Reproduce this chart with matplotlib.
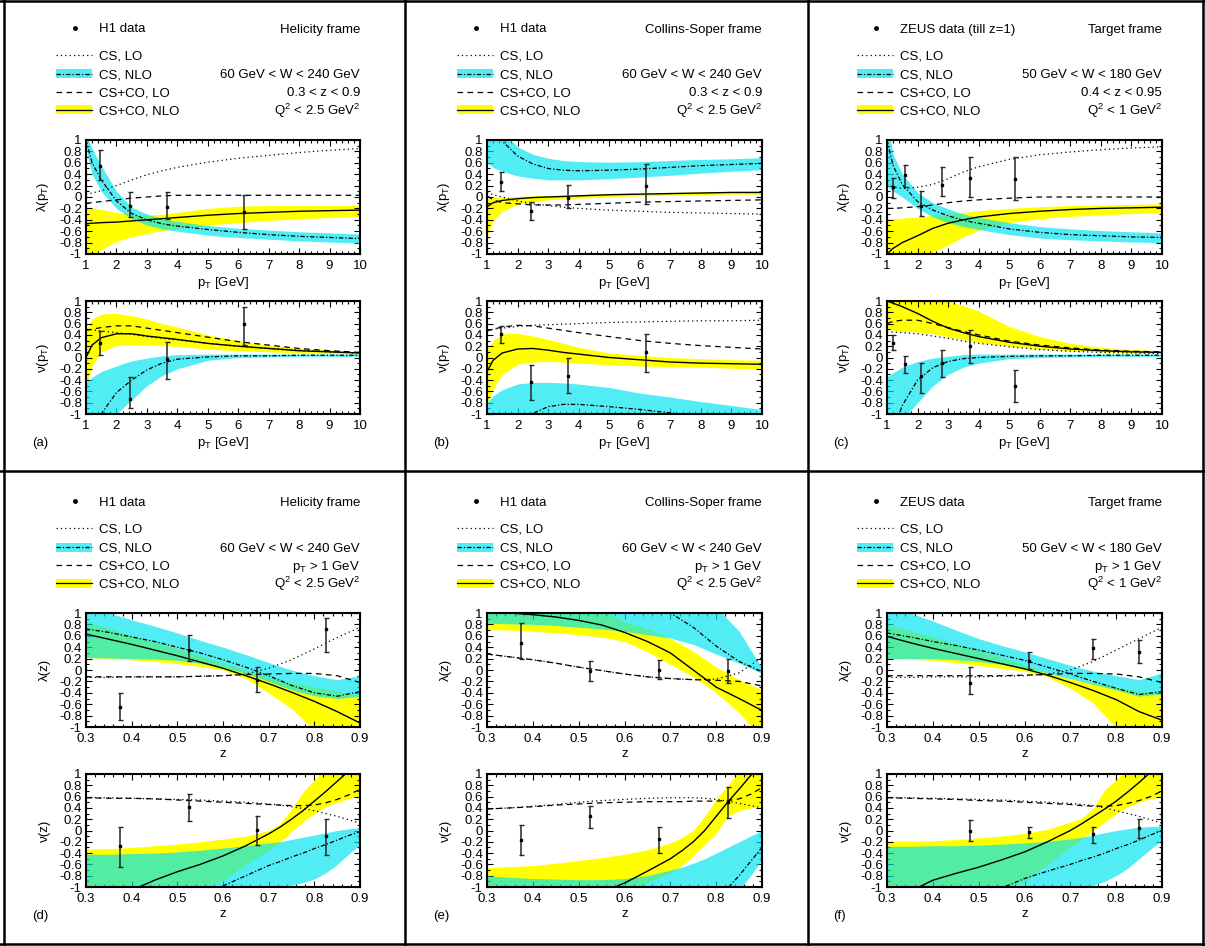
import numpy as np
import matplotlib
matplotlib.use('Agg')
import matplotlib.pyplot as plt
from matplotlib.patches import Rectangle
from matplotlib.ticker import MultipleLocator, FuncFormatter

plt.rcParams['font.family'] = ['Liberation Sans', 'DejaVu Sans']
plt.rcParams['mathtext.fontset'] = 'custom'
plt.rcParams['mathtext.rm'] = 'Liberation Sans'
plt.rcParams['mathtext.default'] = 'regular'
plt.rcParams['axes.unicode_minus'] = False
plt.rcParams['font.size'] = 9.5

W, H = 1205, 946

# x grids
PT = [1, 1.2, 1.5, 2, 2.5, 3, 3.5, 4, 5, 6, 7, 8, 9, 10]
Z = [0.3, 0.35, 0.4, 0.45, 0.5, 0.55, 0.6, 0.65, 0.7, 0.75, 0.8, 0.85, 0.9]
ZN = [0.3, 0.35, 0.4, 0.45, 0.5, 0.55, 0.6, 0.65, 0.7, 0.725, 0.75, 0.775, 0.8, 0.825, 0.85, 0.875, 0.9]

# (a) helicity frame, lambda(pT)
a_lam_cs_lo = [0.05, 0.07, 0.11, 0.2, 0.3, 0.39, 0.46, 0.52, 0.61, 0.68, 0.73, 0.78, 0.82, 0.85]
a_lam_cs_nlo = [1.0, 0.6, 0.3, -0.07, -0.29, -0.4, -0.47, -0.51, -0.57, -0.62, -0.66, -0.69, -0.71, -0.73]
a_lam_cs_nlo_lo = [0.85, 0.4, 0.1, -0.2, -0.38, -0.49, -0.56, -0.6, -0.67, -0.71, -0.74, -0.77, -0.79, -0.81]
a_lam_cs_nlo_hi = [1.1, 0.85, 0.55, 0.1, -0.18, -0.3, -0.38, -0.43, -0.5, -0.55, -0.58, -0.61, -0.63, -0.65]
a_lam_co_lo = [-0.11, -0.1, -0.08, -0.05, -0.02, 0.0, 0.02, 0.03, 0.03, 0.03, 0.03, 0.03, 0.03, 0.03]
a_lam_co_nlo = [-0.47, -0.46, -0.45, -0.44, -0.42, -0.4, -0.38, -0.36, -0.32, -0.29, -0.27, -0.25, -0.24, -0.23]
a_lam_co_nlo_lo = [-1.3, -1.05, -0.92, -0.78, -0.7, -0.64, -0.59, -0.55, -0.49, -0.45, -0.41, -0.38, -0.36, -0.34]
a_lam_co_nlo_hi = [-0.17, -0.19, -0.22, -0.27, -0.3, -0.32, -0.3, -0.27, -0.2, -0.16, -0.15, -0.15, -0.15, -0.15]
a_lam_px = [1.45, 2.45, 3.65, 6.2]
a_lam_py = [0.55, -0.15, -0.17, -0.27]
a_lam_plo = [0.29, -0.35, -0.38, -0.56]
a_lam_phi = [0.82, 0.09, 0.08, 0.04]

# (a) nu(pT)
a_nu_cs_lo = [0.5, 0.49, 0.47, 0.44, 0.41, 0.37, 0.34, 0.31, 0.25, 0.2, 0.16, 0.13, 0.1, 0.08]
a_nu_cs_nlo = [-2.0, -1.6, -1.0, -0.62, -0.4, -0.22, -0.1, -0.03, 0.01, 0.03, 0.03, 0.04, 0.04, 0.04]
a_nu_cs_nlo_lo = [-2.0, -2.0, -1.5, -1.0, -0.75, -0.5, -0.32, -0.2, -0.05, 0.0, 0.01, 0.02, 0.02, 0.02]
a_nu_cs_nlo_hi = [-0.45, -0.35, -0.25, -0.15, -0.06, -0.01, 0.03, 0.05, 0.06, 0.06, 0.06, 0.06, 0.06, 0.06]
a_nu_co_lo = [0.48, 0.5, 0.53, 0.56, 0.56, 0.52, 0.48, 0.44, 0.36, 0.28, 0.22, 0.16, 0.12, 0.09]
a_nu_co_nlo = [0.0, 0.22, 0.35, 0.42, 0.42, 0.38, 0.35, 0.32, 0.25, 0.2, 0.16, 0.12, 0.1, 0.08]
a_nu_co_nlo_lo = [-0.55, -0.15, 0.1, 0.21, 0.22, 0.22, 0.21, 0.2, 0.15, 0.12, 0.1, 0.08, 0.07, 0.06]
a_nu_co_nlo_hi = [0.5, 0.68, 0.77, 0.78, 0.74, 0.68, 0.6, 0.54, 0.4, 0.3, 0.22, 0.17, 0.13, 0.1]
a_nu_px = [1.45, 2.45, 3.65, 6.2]
a_nu_py = [0.25, -0.74, -0.03, 0.59]
a_nu_plo = [0.04, -0.9, -0.38, 0.22]
a_nu_phi = [0.47, -0.34, 0.28, 0.9]

# (b) Collins-Soper frame, lambda(pT)
b_lam_cs_lo = [0.08, 0.04, 0.0, -0.07, -0.12, -0.15, -0.18, -0.2, -0.23, -0.25, -0.27, -0.28, -0.29, -0.3]
b_lam_cs_nlo = [1.3, 1.15, 0.98, 0.72, 0.58, 0.5, 0.47, 0.46, 0.47, 0.49, 0.52, 0.55, 0.57, 0.59]
b_lam_cs_nlo_lo = [0.6, 0.52, 0.45, 0.37, 0.33, 0.3, 0.3, 0.3, 0.32, 0.35, 0.38, 0.42, 0.45, 0.48]
b_lam_cs_nlo_hi = [1.3, 1.25, 1.15, 0.88, 0.75, 0.68, 0.64, 0.62, 0.61, 0.62, 0.64, 0.66, 0.67, 0.69]
b_lam_co_lo = [0.02, -0.05, -0.1, -0.12, -0.14, -0.14, -0.14, -0.13, -0.11, -0.09, -0.08, -0.07, -0.06, -0.05]
b_lam_co_nlo = [-0.17, -0.1, -0.06, -0.03, -0.01, 0.0, 0.01, 0.02, 0.04, 0.05, 0.06, 0.07, 0.08, 0.08]
b_lam_co_nlo_lo = [-0.7, -0.42, -0.25, -0.13, -0.08, -0.05, -0.03, -0.02, 0.0, 0.02, 0.03, 0.04, 0.05, 0.05]
b_lam_co_nlo_hi = [-0.03, -0.01, 0.0, 0.01, 0.02, 0.03, 0.03, 0.04, 0.06, 0.07, 0.08, 0.09, 0.1, 0.11]
b_lam_px = [1.45, 2.45, 3.65, 6.2]
b_lam_py = [0.26, -0.25, -0.01, 0.19]
b_lam_plo = [0.1, -0.4, -0.2, -0.12]
b_lam_phi = [0.44, -0.08, 0.21, 0.58]

# (b) nu(pT)
b_nu_cs_lo = [0.47, 0.5, 0.52, 0.55, 0.57, 0.58, 0.59, 0.6, 0.62, 0.63, 0.64, 0.65, 0.65, 0.66]
b_nu_cs_nlo = [-2.0, -2.0, -1.7, -1.3, -0.99, -0.87, -0.83, -0.83, -0.87, -0.92, -0.98, -1.04, -1.1, -1.15]
b_nu_cs_nlo_lo = [-2.0, -2.0, -2.0, -2.0, -2.0, -2.0, -2.0, -2.0, -2.0, -2.0, -2.0, -2.0, -2.0, -2.0]
b_nu_cs_nlo_hi = [-0.8, -0.68, -0.57, -0.47, -0.44, -0.44, -0.45, -0.47, -0.53, -0.63, -0.7, -0.78, -0.85, -0.92]
b_nu_co_lo = [0.47, 0.5, 0.54, 0.57, 0.56, 0.52, 0.48, 0.44, 0.37, 0.3, 0.25, 0.21, 0.18, 0.15]
b_nu_co_nlo = [-0.25, -0.05, 0.08, 0.15, 0.16, 0.13, 0.09, 0.06, 0.0, -0.04, -0.08, -0.1, -0.11, -0.12]
b_nu_co_nlo_lo = [-0.85, -0.55, -0.3, -0.12, -0.08, -0.07, -0.08, -0.1, -0.13, -0.15, -0.16, -0.17, -0.19, -0.2]
b_nu_co_nlo_hi = [0.15, 0.3, 0.42, 0.43, 0.38, 0.32, 0.25, 0.18, 0.08, 0.04, 0.0, -0.02, -0.04, -0.05]
b_nu_px = [1.45, 2.45, 3.65, 6.2]
b_nu_py = [0.41, -0.43, -0.32, 0.09]
b_nu_plo = [0.25, -0.75, -0.63, -0.26]
b_nu_phi = [0.55, -0.14, -0.01, 0.42]

# (c) target frame, lambda(pT)
c_lam_cs_lo = [0.22, 0.18, 0.15, 0.17, 0.22, 0.32, 0.44, 0.53, 0.66, 0.74, 0.79, 0.83, 0.86, 0.88]
c_lam_cs_nlo = [1.0, 0.55, 0.22, -0.08, -0.23, -0.33, -0.41, -0.46, -0.56, -0.62, -0.66, -0.68, -0.7, -0.71]
c_lam_cs_nlo_lo = [0.2, 0.1, 0.0, -0.2, -0.35, -0.45, -0.52, -0.57, -0.66, -0.72, -0.75, -0.77, -0.79, -0.8]
c_lam_cs_nlo_hi = [1.3, 0.75, 0.4, 0.08, -0.1, -0.21, -0.3, -0.36, -0.45, -0.52, -0.56, -0.59, -0.61, -0.63]
c_lam_co_lo = [-0.2, -0.2, -0.19, -0.17, -0.14, -0.1, -0.07, -0.05, -0.02, 0.0, 0.0, 0.0, 0.0, 0.0]
c_lam_co_nlo = [-1.0, -0.9, -0.8, -0.68, -0.55, -0.46, -0.4, -0.35, -0.29, -0.25, -0.22, -0.2, -0.19, -0.18]
c_lam_co_nlo_lo = [-1.5, -1.4, -1.3, -1.12, -0.97, -0.84, -0.7, -0.58, -0.45, -0.38, -0.34, -0.31, -0.29, -0.27]
c_lam_co_nlo_hi = [-0.38, -0.38, -0.37, -0.35, -0.32, -0.3, -0.27, -0.24, -0.2, -0.17, -0.15, -0.14, -0.13, -0.12]
c_lam_px = [1.2, 1.6, 2.1, 2.8, 3.7, 5.2]
c_lam_py = [0.17, 0.39, -0.15, 0.21, 0.34, 0.31]
c_lam_plo = [-0.01, 0.18, -0.34, 0.02, 0.0, -0.05]
c_lam_phi = [0.33, 0.57, 0.11, 0.52, 0.7, 0.7]

# (c) nu(pT)
c_nu_cs_lo = [0.45, 0.45, 0.44, 0.42, 0.38, 0.34, 0.29, 0.25, 0.19, 0.14, 0.11, 0.09, 0.08, 0.07]
c_nu_cs_nlo = [-1.6, -1.3, -0.85, -0.4, -0.18, -0.07, -0.02, 0.0, 0.02, 0.03, 0.03, 0.04, 0.04, 0.04]
c_nu_cs_nlo_lo = [-2.0, -1.6, -1.1, -0.8, -0.5, -0.3, -0.17, -0.1, -0.02, 0.0, 0.01, 0.02, 0.02, 0.02]
c_nu_cs_nlo_hi = [-0.34, -0.27, -0.17, -0.07, -0.01, 0.02, 0.05, 0.06, 0.06, 0.06, 0.06, 0.06, 0.06, 0.06]
c_nu_co_lo = [0.6, 0.64, 0.66, 0.66, 0.6, 0.53, 0.46, 0.4, 0.29, 0.22, 0.17, 0.13, 0.11, 0.1]
c_nu_co_nlo = [1.0, 0.96, 0.9, 0.78, 0.64, 0.52, 0.44, 0.37, 0.27, 0.2, 0.15, 0.12, 0.1, 0.09]
c_nu_co_nlo_lo = [0.5, 0.48, 0.47, 0.45, 0.42, 0.37, 0.32, 0.27, 0.2, 0.15, 0.12, 0.1, 0.08, 0.07]
c_nu_co_nlo_hi = [1.2, 1.2, 1.2, 1.2, 1.1, 1.0, 0.92, 0.82, 0.55, 0.37, 0.25, 0.18, 0.14, 0.12]
c_nu_px = [1.2, 1.6, 2.1, 2.8, 3.7, 5.2]
c_nu_py = [0.26, -0.12, -0.33, -0.09, 0.2, -0.5]
c_nu_plo = [0.13, -0.27, -0.63, -0.34, -0.09, -0.79]
c_nu_phi = [0.4, 0.03, -0.09, 0.14, 0.48, -0.22]

# (d) helicity frame, lambda(z)
d_lam_cs_lo = [-0.13, -0.13, -0.12, -0.12, -0.12, -0.11, -0.1, -0.07, 0.03, 0.18, 0.37, 0.57, 0.75]
d_lam_cs_nlo = [0.72, 0.66, 0.58, 0.5, 0.4, 0.3, 0.18, 0.05, -0.1, -0.27, -0.4, -0.46, -0.38]
d_lam_cs_nlo_lo = [0.22, 0.21, 0.2, 0.19, 0.17, 0.12, 0.05, -0.06, -0.2, -0.35, -0.45, -0.5, -0.46]
d_lam_cs_nlo_hi = [1.1, 1.0, 0.88, 0.77, 0.65, 0.52, 0.4, 0.27, 0.13, 0.0, -0.1, -0.17, -0.1]
d_lam_co_lo = [-0.12, -0.12, -0.12, -0.12, -0.12, -0.11, -0.1, -0.08, -0.07, -0.06, -0.06, -0.1, -0.22]
d_lam_co_nlo = [0.63, 0.54, 0.45, 0.35, 0.25, 0.14, 0.03, -0.1, -0.24, -0.39, -0.55, -0.73, -0.93]
d_lam_co_nlo_lo = [0.22, 0.2, 0.18, 0.15, 0.11, 0.06, 0.0, -0.15, -0.4, -0.68, -1.05, -1.3, -1.5]
d_lam_co_nlo_hi = [0.85, 0.73, 0.6, 0.49, 0.38, 0.25, 0.12, 0.0, -0.12, -0.22, -0.3, -0.37, -0.45]
d_lam_px = [0.375, 0.525, 0.675, 0.825]
d_lam_py = [-0.65, 0.35, -0.18, 0.72]
d_lam_plo = [-0.87, 0.15, -0.39, 0.31]
d_lam_phi = [-0.41, 0.61, 0.05, 0.92]

# (d) nu(z)
d_nu_cs_lo = [0.58, 0.58, 0.57, 0.56, 0.55, 0.54, 0.52, 0.5, 0.47, 0.45, 0.42, 0.39, 0.35, 0.3, 0.25, 0.19, 0.13]
d_nu_cs_nlo = [-2.0, -2.0, -2.0, -1.8, -1.6, -1.3, -0.98, -0.8, -0.62, -0.55, -0.47, -0.4, -0.32, -0.25, -0.17, -0.09, -0.02]
d_nu_cs_nlo_lo = [-2.0, -2.0, -2.0, -2.0, -2.0, -2.0, -2.0, -1.6, -1.3, -1.1, -0.97, -0.92, -0.86, -0.75, -0.6, -0.42, -0.25]
d_nu_cs_nlo_hi = [-0.42, -0.42, -0.41, -0.4, -0.38, -0.35, -0.31, -0.27, -0.22, -0.2, -0.16, -0.12, -0.08, -0.04, 0.0, 0.03, 0.05]
d_nu_co_lo = [0.58, 0.57, 0.57, 0.56, 0.54, 0.52, 0.5, 0.48, 0.46, 0.45, 0.44, 0.44, 0.45, 0.49, 0.55, 0.63, 0.73]
d_nu_co_nlo = [-1.5, -1.3, -1.06, -0.88, -0.73, -0.6, -0.45, -0.27, -0.06, 0.06, 0.2, 0.35, 0.52, 0.69, 0.87, 1.05, 1.2]
d_nu_co_nlo_lo = [-1.5, -1.4, -1.3, -1.2, -1.1, -1.02, -0.88, -0.6, -0.35, -0.2, -0.02, 0.15, 0.3, 0.42, 0.5, 0.56, 0.62]
d_nu_co_nlo_hi = [-0.33, -0.32, -0.3, -0.27, -0.24, -0.2, -0.15, -0.1, 0.0, 0.12, 0.38, 0.68, 0.9, 1.1, 1.2, 1.2, 1.2]
d_nu_px = [0.375, 0.525, 0.675, 0.825]
d_nu_py = [-0.28, 0.41, 0.01, -0.1]
d_nu_plo = [-0.64, 0.16, -0.25, -0.43]
d_nu_phi = [0.06, 0.64, 0.25, 0.21]

# (e) Collins-Soper frame, lambda(z)
e_lam_cs_lo = [0.28, 0.23, 0.18, 0.12, 0.05, -0.01, -0.07, -0.12, -0.15, -0.17, -0.16, -0.05, 0.22]
e_lam_cs_nlo = [1.5, 1.45, 1.4, 1.35, 1.3, 1.2, 1.12, 1.05, 1.0, 0.75, 0.42, 0.15, -0.03]
e_lam_cs_nlo_lo = [0.82, 0.81, 0.8, 0.78, 0.75, 0.72, 0.68, 0.62, 0.56, 0.45, 0.28, 0.12, -0.06]
e_lam_cs_nlo_hi = [1.5, 1.5, 1.5, 1.5, 1.5, 1.5, 1.5, 1.4, 1.3, 1.2, 1.1, 0.68, 0.03]
e_lam_co_lo = [0.28, 0.23, 0.18, 0.12, 0.05, -0.01, -0.07, -0.12, -0.15, -0.17, -0.18, -0.2, -0.28]
e_lam_co_nlo = [1.02, 1.0, 0.97, 0.93, 0.87, 0.79, 0.66, 0.5, 0.3, 0.0, -0.3, -0.5, -0.71]
e_lam_co_nlo_lo = [0.71, 0.7, 0.68, 0.65, 0.62, 0.58, 0.5, 0.32, 0.1, -0.12, -0.4, -0.75, -1.2]
e_lam_co_nlo_hi = [1.1, 1.1, 1.1, 1.1, 1.1, 1.05, 0.85, 0.72, 0.55, 0.33, 0.05, -0.17, -0.35]
e_lam_px = [0.375, 0.525, 0.675, 0.825]
e_lam_py = [0.47, -0.01, 0.0, -0.01]
e_lam_plo = [0.19, -0.19, -0.16, -0.22]
e_lam_phi = [0.82, 0.15, 0.18, 0.19]

# (e) nu(z)
e_nu_cs_lo = [0.38, 0.4, 0.43, 0.46, 0.5, 0.53, 0.55, 0.57, 0.58, 0.58, 0.58, 0.57, 0.55, 0.52, 0.48, 0.44, 0.4]
e_nu_cs_nlo = [-2.0, -2.0, -2.0, -2.0, -2.0, -2.0, -2.0, -2.0, -2.0, -2.0, -2.0, -2.0, -1.4, -1.02, -0.8, -0.55, -0.3]
e_nu_cs_nlo_lo = [-2.0, -2.0, -2.0, -2.0, -2.0, -2.0, -2.0, -2.0, -2.0, -2.0, -2.0, -2.0, -2.0, -1.3, -1.05, -0.8, -0.52]
e_nu_cs_nlo_hi = [-0.8, -0.83, -0.85, -0.86, -0.87, -0.87, -0.85, -0.8, -0.7, -0.65, -0.58, -0.5, -0.4, -0.3, -0.2, -0.1, 0.0]
e_nu_co_lo = [0.38, 0.4, 0.42, 0.45, 0.47, 0.49, 0.5, 0.51, 0.51, 0.51, 0.52, 0.52, 0.52, 0.53, 0.56, 0.64, 0.76]
e_nu_co_nlo = [-1.6, -1.5, -1.4, -1.3, -1.2, -1.1, -0.93, -0.72, -0.5, -0.36, -0.2, 0.0, 0.25, 0.5, 0.73, 0.97, 1.2]
e_nu_co_nlo_lo = [-1.5, -1.5, -1.5, -1.4, -1.3, -1.2, -1.1, -0.92, -0.75, -0.62, -0.45, -0.25, -0.05, 0.25, 0.35, 0.4, 0.43]
e_nu_co_nlo_hi = [-0.66, -0.64, -0.62, -0.58, -0.53, -0.48, -0.42, -0.34, -0.22, -0.12, 0.0, 0.25, 0.55, 0.8, 1.05, 1.2, 1.2]
e_nu_px = [0.375, 0.525, 0.675, 0.825]
e_nu_py = [-0.17, 0.25, -0.15, 0.51]
e_nu_plo = [-0.44, 0.04, -0.4, 0.22]
e_nu_phi = [0.09, 0.44, 0.07, 0.77]

# (f) target frame, lambda(z)
f_lam_cs_lo = [-0.13, -0.13, -0.12, -0.12, -0.12, -0.11, -0.1, -0.07, 0.0, 0.15, 0.35, 0.55, 0.75]
f_lam_cs_nlo = [0.65, 0.58, 0.5, 0.43, 0.35, 0.26, 0.17, 0.05, -0.07, -0.2, -0.32, -0.43, -0.38]
f_lam_cs_nlo_lo = [0.2, 0.2, 0.2, 0.18, 0.15, 0.1, 0.03, -0.05, -0.15, -0.25, -0.35, -0.46, -0.42]
f_lam_cs_nlo_hi = [1.1, 1.0, 0.86, 0.7, 0.55, 0.43, 0.32, 0.2, 0.08, -0.02, -0.1, -0.17, -0.05]
f_lam_co_lo = [-0.1, -0.1, -0.1, -0.1, -0.1, -0.1, -0.09, -0.08, -0.06, -0.06, -0.07, -0.12, -0.22]
f_lam_co_nlo = [0.59, 0.48, 0.38, 0.29, 0.2, 0.11, 0.02, -0.09, -0.22, -0.36, -0.52, -0.73, -0.88]
f_lam_co_nlo_lo = [0.2, 0.19, 0.17, 0.13, 0.08, 0.03, -0.02, -0.12, -0.32, -0.58, -1.02, -1.3, -1.5]
f_lam_co_nlo_hi = [0.8, 0.69, 0.58, 0.46, 0.35, 0.22, 0.08, -0.04, -0.15, -0.23, -0.3, -0.37, -0.4]
f_lam_px = [0.48, 0.61, 0.75, 0.85]
f_lam_py = [-0.23, 0.16, 0.39, 0.31]
f_lam_plo = [-0.42, 0.02, 0.19, 0.12]
f_lam_phi = [0.05, 0.31, 0.55, 0.53]

# (f) nu(z)
f_nu_cs_lo = [0.58, 0.58, 0.57, 0.56, 0.55, 0.54, 0.52, 0.5, 0.48, 0.46, 0.44, 0.4, 0.35, 0.3, 0.25, 0.19, 0.13]
f_nu_cs_nlo = [-2.0, -2.0, -1.8, -1.5, -1.25, -1.02, -0.85, -0.72, -0.6, -0.53, -0.47, -0.4, -0.32, -0.25, -0.17, -0.08, 0.0]
f_nu_cs_nlo_lo = [-2.0, -2.0, -2.0, -2.0, -2.0, -2.0, -2.0, -2.0, -1.3, -1.1, -0.97, -0.9, -0.8, -0.67, -0.5, -0.33, -0.17]
f_nu_cs_nlo_hi = [-0.28, -0.28, -0.27, -0.27, -0.26, -0.24, -0.22, -0.19, -0.15, -0.12, -0.08, -0.04, 0.0, 0.03, 0.06, 0.07, 0.08]
f_nu_co_lo = [0.58, 0.57, 0.56, 0.55, 0.53, 0.52, 0.5, 0.48, 0.46, 0.44, 0.43, 0.43, 0.44, 0.48, 0.53, 0.6, 0.7]
f_nu_co_nlo = [-1.3, -1.08, -0.88, -0.76, -0.65, -0.52, -0.38, -0.2, 0.0, 0.12, 0.25, 0.38, 0.52, 0.68, 0.85, 1.03, 1.2]
f_nu_co_nlo_lo = [-1.5, -1.4, -1.3, -1.2, -1.1, -1.02, -0.9, -0.6, -0.3, -0.15, 0.0, 0.15, 0.3, 0.42, 0.5, 0.56, 0.6]
f_nu_co_nlo_hi = [-0.19, -0.19, -0.18, -0.16, -0.13, -0.1, -0.05, 0.02, 0.15, 0.22, 0.4, 0.72, 0.9, 1.1, 1.2, 1.2, 1.2]
f_nu_px = [0.48, 0.61, 0.75, 0.85]
f_nu_py = [0.0, -0.03, -0.07, 0.04]
f_nu_plo = [-0.18, -0.14, -0.22, -0.14]
f_nu_phi = [0.18, 0.07, 0.06, 0.21]

# legend / header texts
who = ['H1 data', 'H1 data', 'ZEUS data (till z=1)', 'H1 data', 'H1 data', 'ZEUS data']
frames = ['Helicity frame', 'Collins-Soper frame', 'Target frame'] * 2
cuts = [
    ['60 GeV < W < 240 GeV', '0.3 < z < 0.9', 'Q$^2$ < 2.5 GeV$^2$'],
    ['60 GeV < W < 240 GeV', '0.3 < z < 0.9', 'Q$^2$ < 2.5 GeV$^2$'],
    ['50 GeV < W < 180 GeV', '0.4 < z < 0.95', 'Q$^2$ < 1 GeV$^2$'],
    ['60 GeV < W < 240 GeV', 'p$_T$ > 1 GeV', 'Q$^2$ < 2.5 GeV$^2$'],
    ['60 GeV < W < 240 GeV', 'p$_T$ > 1 GeV', 'Q$^2$ < 2.5 GeV$^2$'],
    ['50 GeV < W < 180 GeV', 'p$_T$ > 1 GeV', 'Q$^2$ < 1 GeV$^2$'],
]
series_names = ['CS, LO', 'CS, NLO', 'CS+CO, LO', 'CS+CO, NLO']
tags = ['(a)', '(b)', '(c)', '(d)', '(e)', '(f)']

YELLOW = '#ffff00'
CYAN = '#00e4f0'
CYAN_ALPHA = 0.68
DOT = (0, (1, 2.5))
DASHDOT = (0, (3.5, 1.6, 1, 1.6))
DASH = (0, (4.5, 3.5))


def fmt(v, pos):
    v = round(v, 3)
    if abs(v) < 1e-9:
        return '0'
    return f'{v:g}'


def add_ax(fig, left, top, right, bottom):
    return fig.add_axes([left / W, 1 - bottom / H, (right - left) / W, (bottom - top) / H])


def panel(ax, x, curves, pts, zaxis, xlabel, ylabel):
    cs_lo, cs_nlo, cs_nlo_lo, cs_nlo_hi, co_lo, co_nlo, co_nlo_lo, co_nlo_hi = curves
    ax.fill_between(x, co_nlo_lo, co_nlo_hi, color=YELLOW, lw=0, zorder=1)
    ax.fill_between(x, cs_nlo_lo, cs_nlo_hi, color=CYAN, alpha=CYAN_ALPHA, lw=0, zorder=2)
    ax.plot(x, cs_lo, color='k', ls=DOT, lw=0.9, zorder=3)
    ax.plot(x, cs_nlo, color='k', ls=DASHDOT, lw=0.9, zorder=3)
    ax.plot(x, co_lo, color='k', ls=DASH, lw=0.9, zorder=3)
    ax.plot(x, co_nlo, color='k', lw=1.0, zorder=3)
    px, py, plo, phi = pts
    yerr = [np.subtract(py, plo), np.subtract(phi, py)]
    ax.errorbar(px, py, yerr=yerr, fmt='s', ms=2.0, color='k', ecolor='#262626',
                elinewidth=1.1, capsize=1.8, capthick=1.0, zorder=4)
    ax.set_ylim(-1, 1)
    if zaxis:
        ax.set_xlim(0.3, 0.9)
        ax.xaxis.set_major_locator(MultipleLocator(0.1))
        ax.xaxis.set_minor_locator(MultipleLocator(0.02))
    else:
        ax.set_xlim(1, 10)
        ax.xaxis.set_major_locator(MultipleLocator(1))
        ax.xaxis.set_minor_locator(MultipleLocator(0.2))
    ax.yaxis.set_major_locator(MultipleLocator(0.2))
    ax.yaxis.set_minor_locator(MultipleLocator(0.1))
    ax.xaxis.set_major_formatter(FuncFormatter(fmt))
    ax.yaxis.set_major_formatter(FuncFormatter(fmt))
    ax.tick_params(which='both', direction='in', top=True, right=True, width=0.8,
                   labelsize=9.5)
    ax.tick_params(axis='x', pad=4.5)
    ax.tick_params(axis='y', pad=3)
    ax.tick_params(which='major', length=4.5)
    ax.tick_params(which='minor', length=2.5)
    for s in ax.spines.values():
        s.set_linewidth(1.5)
    ax.set_xlabel(xlabel, fontsize=9.5, labelpad=2)
    ax.set_ylabel(ylabel, fontsize=9.5, labelpad=6)


fig = plt.figure(figsize=(W / 100, H / 100), dpi=100)
ov = fig.add_axes([0, 0, 1, 1])
ov.set_xlim(0, W)
ov.set_ylim(H, 0)
ov.axis('off')

# cell borders
for xb in (4, 405, 808, 1203):
    ov.plot([xb, xb], [0, H], color='k', lw=1.8)
for yb in (1, 471, 944):
    ov.plot([0, W], [yb, yb], color='k', lw=1.8)

col_l = [86, 487, 887]
col_r = [360, 762, 1162]
row_off = [0, 473]


def legend(k, axl, axr, oy):
    y0 = 28 + oy
    ov.plot([axl - 11], [y0], 'o', color='k', ms=2.5)
    ov.text(axl + 13, y0 + 4.5, who[k], ha='left', va='baseline')
    ov.text(axr, y0 + 4.5, frames[k], ha='right', va='baseline')
    ys = [55 + oy, 74 + oy, 92 + oy, 110 + oy]
    x0, x1 = axl - 30, axl + 6
    ov.add_patch(Rectangle((x0, ys[1] - 4.5), x1 - x0, 9, color=CYAN, alpha=CYAN_ALPHA, lw=0))
    ov.add_patch(Rectangle((x0, ys[3] - 4.5), x1 - x0, 9, color=YELLOW, lw=0))
    for y, ls in zip(ys, [DOT, DASHDOT, DASH, '-']):
        ov.plot([x0, x1], [y, y], color='k', ls=ls, lw=0.9)
    for y, name in zip(ys, series_names):
        ov.text(axl + 13, y + 4.5, name, ha='left', va='baseline')
    for y, c in zip(ys[1:], cuts[k]):
        ov.text(axr, y + 4.5, c, ha='right', va='baseline')


panels = [
    (PT, [a_lam_cs_lo, a_lam_cs_nlo, a_lam_cs_nlo_lo, a_lam_cs_nlo_hi, a_lam_co_lo, a_lam_co_nlo, a_lam_co_nlo_lo, a_lam_co_nlo_hi],
     [a_lam_px, a_lam_py, a_lam_plo, a_lam_phi],
     PT, [a_nu_cs_lo, a_nu_cs_nlo, a_nu_cs_nlo_lo, a_nu_cs_nlo_hi, a_nu_co_lo, a_nu_co_nlo, a_nu_co_nlo_lo, a_nu_co_nlo_hi],
     [a_nu_px, a_nu_py, a_nu_plo, a_nu_phi]),
    (PT, [b_lam_cs_lo, b_lam_cs_nlo, b_lam_cs_nlo_lo, b_lam_cs_nlo_hi, b_lam_co_lo, b_lam_co_nlo, b_lam_co_nlo_lo, b_lam_co_nlo_hi],
     [b_lam_px, b_lam_py, b_lam_plo, b_lam_phi],
     PT, [b_nu_cs_lo, b_nu_cs_nlo, b_nu_cs_nlo_lo, b_nu_cs_nlo_hi, b_nu_co_lo, b_nu_co_nlo, b_nu_co_nlo_lo, b_nu_co_nlo_hi],
     [b_nu_px, b_nu_py, b_nu_plo, b_nu_phi]),
    (PT, [c_lam_cs_lo, c_lam_cs_nlo, c_lam_cs_nlo_lo, c_lam_cs_nlo_hi, c_lam_co_lo, c_lam_co_nlo, c_lam_co_nlo_lo, c_lam_co_nlo_hi],
     [c_lam_px, c_lam_py, c_lam_plo, c_lam_phi],
     PT, [c_nu_cs_lo, c_nu_cs_nlo, c_nu_cs_nlo_lo, c_nu_cs_nlo_hi, c_nu_co_lo, c_nu_co_nlo, c_nu_co_nlo_lo, c_nu_co_nlo_hi],
     [c_nu_px, c_nu_py, c_nu_plo, c_nu_phi]),
    (Z, [d_lam_cs_lo, d_lam_cs_nlo, d_lam_cs_nlo_lo, d_lam_cs_nlo_hi, d_lam_co_lo, d_lam_co_nlo, d_lam_co_nlo_lo, d_lam_co_nlo_hi],
     [d_lam_px, d_lam_py, d_lam_plo, d_lam_phi],
     ZN, [d_nu_cs_lo, d_nu_cs_nlo, d_nu_cs_nlo_lo, d_nu_cs_nlo_hi, d_nu_co_lo, d_nu_co_nlo, d_nu_co_nlo_lo, d_nu_co_nlo_hi],
     [d_nu_px, d_nu_py, d_nu_plo, d_nu_phi]),
    (Z, [e_lam_cs_lo, e_lam_cs_nlo, e_lam_cs_nlo_lo, e_lam_cs_nlo_hi, e_lam_co_lo, e_lam_co_nlo, e_lam_co_nlo_lo, e_lam_co_nlo_hi],
     [e_lam_px, e_lam_py, e_lam_plo, e_lam_phi],
     ZN, [e_nu_cs_lo, e_nu_cs_nlo, e_nu_cs_nlo_lo, e_nu_cs_nlo_hi, e_nu_co_lo, e_nu_co_nlo, e_nu_co_nlo_lo, e_nu_co_nlo_hi],
     [e_nu_px, e_nu_py, e_nu_plo, e_nu_phi]),
    (Z, [f_lam_cs_lo, f_lam_cs_nlo, f_lam_cs_nlo_lo, f_lam_cs_nlo_hi, f_lam_co_lo, f_lam_co_nlo, f_lam_co_nlo_lo, f_lam_co_nlo_hi],
     [f_lam_px, f_lam_py, f_lam_plo, f_lam_phi],
     ZN, [f_nu_cs_lo, f_nu_cs_nlo, f_nu_cs_nlo_lo, f_nu_cs_nlo_hi, f_nu_co_lo, f_nu_co_nlo, f_nu_co_nlo_lo, f_nu_co_nlo_hi],
     [f_nu_px, f_nu_py, f_nu_plo, f_nu_phi]),
]

for k, (xl, cl, pl, xn, cn, pn) in enumerate(panels):
    row, col = divmod(k, 3)
    axl, axr, oy = col_l[col], col_r[col], row_off[row]
    zaxis = row == 1
    var = 'z' if zaxis else 'p$_T$'
    xlab = 'z' if zaxis else 'p$_T$ [GeV]'
    legend(k, axl, axr, oy)
    ax1 = add_ax(fig, axl, 140 + oy, axr, 254 + oy)
    panel(ax1, xl, cl, pl, zaxis, xlab, 'λ(' + var + ')')
    ax2 = add_ax(fig, axl, 301 + oy, axr, 414 + oy)
    panel(ax2, xn, cn, pn, zaxis, xlab, 'ν(' + var + ')')
    ov.text(axl - 54, 443 + oy, tags[k], ha='left', va='center')

fig.savefig('out.png', dpi=100)
